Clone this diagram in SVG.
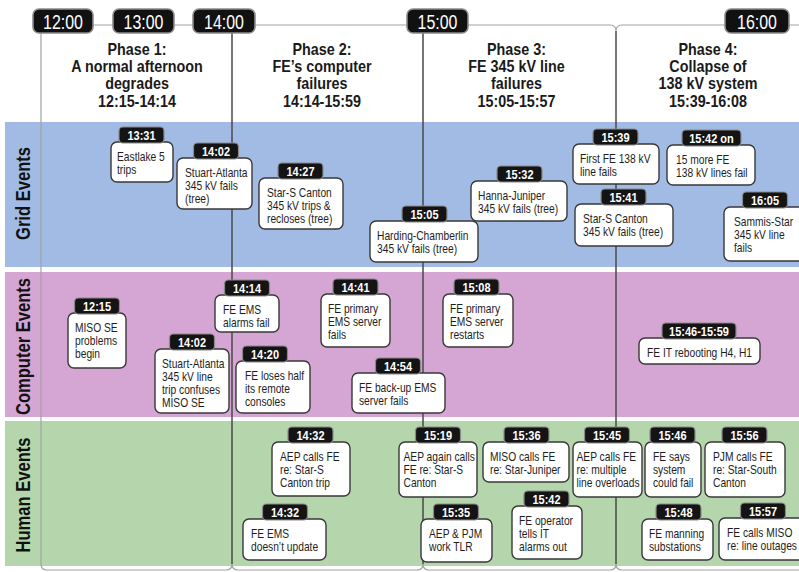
<svg xmlns="http://www.w3.org/2000/svg" width="799" height="572" viewBox="0 0 799 572">
<style>
text{font-family:"Liberation Sans",Arial,sans-serif}
.box{fill:#fff;stroke:#383838;stroke-width:1.4}
.lab{fill:#141414;stroke:#8a8a8a;stroke-width:1.2}
.lt{font-weight:bold;font-size:12.5px;fill:#fff;text-anchor:middle}
.t{font-size:12.8px;fill:#1e1e1e}
.hr{fill:#111;stroke:#8c8c8c;stroke-width:1.6}
.ht{font-size:21px;fill:#fff;text-anchor:middle}
.ph{font-weight:bold;font-size:16.3px;fill:#1a1a1a;text-anchor:middle}
.lane{font-weight:bold;font-size:19.5px;fill:#111;text-anchor:middle}
.vl{fill:none;stroke:#4a4a4a;stroke-width:1.5}
.gl{fill:none;stroke:#a2a2a2;stroke-width:1.2}
</style>
<rect width="799" height="572" fill="#fff"/>
<g id="lanes">
<rect x="5" y="122" width="794" height="145" fill="#a2bbe4"/>
<rect x="5" y="272" width="794" height="145" fill="#d5a5d3"/>
<rect x="5" y="421" width="794" height="145" fill="#b5d6ad"/>
<text class="lane" transform="translate(29.5,193.5) rotate(-90) scale(0.85,1)">Grid Events</text>
<text class="lane" transform="translate(29.5,346.5) rotate(-90) scale(0.85,1)">Computer Events</text>
<text class="lane" transform="translate(29.5,495) rotate(-90) scale(0.85,1)">Human Events</text>
</g>
<g id="connectors">
<path class="gl" d="M93 25H610Q616 25 616 31Q616 25 622 25H799"/>
<path class="gl" d="M41 33V564Q41 570 47 570H226Q232 570 232 564Q232 570 238 570H417Q423 570 423 564Q423 570 429 570H610Q616 570 616 564Q616 570 622 570H799"/>
<path class="vl" d="M232 33V564M423 33V564M616 31V564"/>
</g>
<g id="hours">
<rect class="hr" x="33" y="9" width="60" height="24" rx="6"/>
<text class="ht" transform="translate(63,28.5) scale(0.76,1)">12:00</text>
<rect class="hr" x="113" y="9" width="61" height="24" rx="6"/>
<text class="ht" transform="translate(143.5,28.5) scale(0.76,1)">13:00</text>
<rect class="hr" x="193" y="9" width="62" height="24" rx="6"/>
<text class="ht" transform="translate(224,28.5) scale(0.76,1)">14:00</text>
<rect class="hr" x="407" y="9" width="61" height="24" rx="6"/>
<text class="ht" transform="translate(437.5,28.5) scale(0.76,1)">15:00</text>
<rect class="hr" x="725" y="9" width="64" height="24" rx="6"/>
<text class="ht" transform="translate(757,28.5) scale(0.76,1)">16:00</text>
</g>
<g id="phases">
<g id="phase1" transform="translate(137,0) scale(0.88,1)"><text class="ph"><tspan x="0" y="55">Phase 1:</tspan><tspan x="0" y="72.2">A normal afternoon</tspan><tspan x="0" y="89.4">degrades</tspan><tspan x="0" y="106.6">12:15-14:14</tspan></text></g>
<g id="phase2" transform="translate(322,0) scale(0.88,1)"><text class="ph"><tspan x="0" y="55">Phase 2:</tspan><tspan x="0" y="72.2">FE’s computer</tspan><tspan x="0" y="89.4">failures</tspan><tspan x="0" y="106.6">14:14-15:59</tspan></text></g>
<g id="phase3" transform="translate(516.5,0) scale(0.88,1)"><text class="ph"><tspan x="0" y="55">Phase 3:</tspan><tspan x="0" y="72.2">FE 345 kV line</tspan><tspan x="0" y="89.4">failures</tspan><tspan x="0" y="106.6">15:05-15:57</tspan></text></g>
<g id="phase4" transform="translate(708,0) scale(0.88,1)"><text class="ph"><tspan x="0" y="55">Phase 4:</tspan><tspan x="0" y="72.2">Collapse of</tspan><tspan x="0" y="89.4">138 kV system</tspan><tspan x="0" y="106.6">15:39-16:08</tspan></text></g>
</g>

<!-- Grid events -->
<g id="g1331"><rect class="box" x="111" y="142" width="62" height="40" rx="6"/><rect class="lab" x="119" y="127" width="45" height="16" rx="4"/><text class="lt" transform="translate(141.5,139.5) scale(0.88,1)">13:31</text><g transform="translate(117,161) scale(0.8,1)"><text class="t"><tspan x="0" y="0">Eastlake 5</tspan><tspan x="0" y="13">trips</tspan></text></g></g>
<g id="g1402"><rect class="box" x="177" y="158" width="75" height="51" rx="6"/><rect class="lab" x="193.5" y="143" width="45" height="16" rx="4"/><text class="lt" transform="translate(216,155.5) scale(0.88,1)">14:02</text><g transform="translate(185,177) scale(0.8,1)"><text class="t"><tspan x="0" y="0">Stuart-Atlanta</tspan><tspan x="0" y="13">345 kV fails</tspan><tspan x="0" y="26">(tree)</tspan></text></g></g>
<g id="g1427"><rect class="box" x="259" y="178" width="84" height="51" rx="6"/><rect class="lab" x="278" y="163" width="45" height="16" rx="4"/><text class="lt" transform="translate(300.5,175.5) scale(0.88,1)">14:27</text><g transform="translate(267,197) scale(0.8,1)"><text class="t"><tspan x="0" y="0">Star-S Canton</tspan><tspan x="0" y="13">345 kV trips &amp;</tspan><tspan x="0" y="26">recloses (tree)</tspan></text></g></g>
<g id="g1505"><rect class="box" x="370" y="221" width="108" height="41" rx="6"/><rect class="lab" x="402" y="206" width="45" height="16" rx="4"/><text class="lt" transform="translate(424.5,218.5) scale(0.88,1)">15:05</text><g transform="translate(377,240) scale(0.8,1)"><text class="t"><tspan x="0" y="0">Harding-Chamberlin</tspan><tspan x="0" y="13">345 kV fails (tree)</tspan></text></g></g>
<g id="g1532"><rect class="box" x="471" y="181" width="96" height="40" rx="6"/><rect class="lab" x="497" y="166" width="45" height="16" rx="4"/><text class="lt" transform="translate(519.5,178.5) scale(0.88,1)">15:32</text><g transform="translate(478,200) scale(0.8,1)"><text class="t"><tspan x="0" y="0">Hanna-Juniper</tspan><tspan x="0" y="13">345 kV fails (tree)</tspan></text></g></g>
<g id="g1539"><rect class="box" x="573" y="144" width="86" height="40" rx="6"/><rect class="lab" x="593" y="129" width="45" height="16" rx="4"/><text class="lt" transform="translate(615.5,141.5) scale(0.88,1)">15:39</text><g transform="translate(580,163) scale(0.8,1)"><text class="t"><tspan x="0" y="0">First FE 138 kV</tspan><tspan x="0" y="13">line fails</tspan></text></g></g>
<g id="g1541"><rect class="box" x="575" y="204" width="98" height="42" rx="6"/><rect class="lab" x="601" y="189" width="45" height="16" rx="4"/><text class="lt" transform="translate(623.5,201.5) scale(0.88,1)">15:41</text><g transform="translate(583,223) scale(0.8,1)"><text class="t"><tspan x="0" y="0">Star-S Canton</tspan><tspan x="0" y="13">345 kV fails (tree)</tspan></text></g></g>
<g id="g1542on"><rect class="box" x="667" y="145" width="88" height="40" rx="6"/><rect class="lab" x="682" y="130" width="59" height="16" rx="4"/><text class="lt" transform="translate(711.5,142.5) scale(0.88,1)">15:42 on</text><g transform="translate(676,164) scale(0.8,1)"><text class="t"><tspan x="0" y="0">15 more FE</tspan><tspan x="0" y="13">138 kV lines fail</tspan></text></g></g>
<g id="g1605"><rect class="box" x="724" y="207" width="86" height="54" rx="6"/><rect class="lab" x="742.5" y="192" width="45" height="16" rx="4"/><text class="lt" transform="translate(765,204.5) scale(0.88,1)">16:05</text><g transform="translate(734,226) scale(0.8,1)"><text class="t"><tspan x="0" y="0">Sammis-Star</tspan><tspan x="0" y="13">345 kV line</tspan><tspan x="0" y="26">fails</tspan></text></g></g>

<!-- Computer events -->
<g id="c1215"><rect class="box" x="68" y="313" width="58" height="55" rx="6"/><rect class="lab" x="74.5" y="298" width="45" height="16" rx="4"/><text class="lt" transform="translate(97,310.5) scale(0.88,1)">12:15</text><g transform="translate(75,332) scale(0.8,1)"><text class="t"><tspan x="0" y="0">MISO SE</tspan><tspan x="0" y="13">problems</tspan><tspan x="0" y="26">begin</tspan></text></g></g>
<g id="c1414"><rect class="box" x="215" y="295" width="64" height="37" rx="6"/><rect class="lab" x="224.5" y="280" width="45" height="16" rx="4"/><text class="lt" transform="translate(247,292.5) scale(0.88,1)">14:14</text><g transform="translate(223,314) scale(0.8,1)"><text class="t"><tspan x="0" y="0">FE EMS</tspan><tspan x="0" y="13">alarms fail</tspan></text></g></g>
<g id="c1441"><rect class="box" x="321" y="294" width="69" height="53" rx="6"/><rect class="lab" x="333" y="279" width="45" height="16" rx="4"/><text class="lt" transform="translate(355.5,291.5) scale(0.88,1)">14:41</text><g transform="translate(328,313) scale(0.8,1)"><text class="t"><tspan x="0" y="0">FE primary</tspan><tspan x="0" y="13">EMS server</tspan><tspan x="0" y="26">fails</tspan></text></g></g>
<g id="c1402"><rect class="box" x="155" y="349" width="74" height="64" rx="6"/><rect class="lab" x="169.5" y="334" width="45" height="16" rx="4"/><text class="lt" transform="translate(192,346.5) scale(0.88,1)">14:02</text><g transform="translate(162,368) scale(0.8,1)"><text class="t"><tspan x="0" y="0">Stuart-Atlanta</tspan><tspan x="0" y="13">345 kV line</tspan><tspan x="0" y="26">trip confuses</tspan><tspan x="0" y="39">MISO SE</tspan></text></g></g>
<g id="c1420"><rect class="box" x="236" y="361" width="74" height="52" rx="6"/><rect class="lab" x="242.5" y="346" width="45" height="16" rx="4"/><text class="lt" transform="translate(265,358.5) scale(0.88,1)">14:20</text><g transform="translate(245,380) scale(0.8,1)"><text class="t"><tspan x="0" y="0">FE loses half</tspan><tspan x="0" y="13">its remote</tspan><tspan x="0" y="26">consoles</tspan></text></g></g>
<g id="c1454"><rect class="box" x="352" y="373" width="93" height="40" rx="6"/><rect class="lab" x="375.5" y="358" width="45" height="16" rx="4"/><text class="lt" transform="translate(398,370.5) scale(0.88,1)">14:54</text><g transform="translate(359,392) scale(0.8,1)"><text class="t"><tspan x="0" y="0">FE back-up EMS</tspan><tspan x="0" y="13">server fails</tspan></text></g></g>
<g id="c1508"><rect class="box" x="443" y="294" width="70" height="53" rx="6"/><rect class="lab" x="454" y="279" width="45" height="16" rx="4"/><text class="lt" transform="translate(476.5,291.5) scale(0.88,1)">15:08</text><g transform="translate(450,313) scale(0.8,1)"><text class="t"><tspan x="0" y="0">FE primary</tspan><tspan x="0" y="13">EMS server</tspan><tspan x="0" y="26">restarts</tspan></text></g></g>
<g id="c1546"><rect class="box" x="639" y="338" width="121" height="26" rx="6"/><rect class="lab" x="662" y="323" width="74" height="16" rx="4"/><text class="lt" transform="translate(699,335.5) scale(0.88,1)">15:46-15:59</text><g transform="translate(647,357) scale(0.8,1)"><text class="t"><tspan x="0" y="0">FE IT rebooting H4, H1</tspan></text></g></g>

<!-- Human events -->
<g id="h1432a"><rect class="box" x="272" y="442" width="78" height="54" rx="6"/><rect class="lab" x="288" y="427" width="45" height="16" rx="4"/><text class="lt" transform="translate(310.5,439.5) scale(0.88,1)">14:32</text><g transform="translate(280,461) scale(0.8,1)"><text class="t"><tspan x="0" y="0">AEP calls FE</tspan><tspan x="0" y="13">re: Star-S</tspan><tspan x="0" y="26">Canton trip</tspan></text></g></g>
<g id="h1432b"><rect class="box" x="243" y="519" width="83" height="41" rx="6"/><rect class="lab" x="262.5" y="504" width="45" height="16" rx="4"/><text class="lt" transform="translate(285,516.5) scale(0.88,1)">14:32</text><g transform="translate(251,538) scale(0.8,1)"><text class="t"><tspan x="0" y="0">FE EMS</tspan><tspan x="0" y="13">doesn’t update</tspan></text></g></g>
<g id="h1519"><rect class="box" x="399" y="442" width="78" height="55" rx="6"/><rect class="lab" x="415.5" y="427" width="45" height="16" rx="4"/><text class="lt" transform="translate(438,439.5) scale(0.88,1)">15:19</text><g transform="translate(403.5,461) scale(0.8,1)"><text class="t"><tspan x="0" y="0">AEP again calls</tspan><tspan x="0" y="13">FE re: Star-S</tspan><tspan x="0" y="26">Canton</tspan></text></g></g>
<g id="h1535"><rect class="box" x="421" y="519" width="71" height="43" rx="6"/><rect class="lab" x="433.5" y="504" width="45" height="16" rx="4"/><text class="lt" transform="translate(456,516.5) scale(0.88,1)">15:35</text><g transform="translate(429,538) scale(0.8,1)"><text class="t"><tspan x="0" y="0">AEP &amp; PJM</tspan><tspan x="0" y="13">work TLR</tspan></text></g></g>
<g id="h1536"><rect class="box" x="483" y="442" width="86" height="40" rx="6"/><rect class="lab" x="504" y="427" width="45" height="16" rx="4"/><text class="lt" transform="translate(526.5,439.5) scale(0.88,1)">15:36</text><g transform="translate(490,461) scale(0.8,1)"><text class="t"><tspan x="0" y="0">MISO calls FE</tspan><tspan x="0" y="13">re: Star-Juniper</tspan></text></g></g>
<g id="h1542"><rect class="box" x="512" y="506" width="70" height="53" rx="6"/><rect class="lab" x="524" y="491" width="45" height="16" rx="4"/><text class="lt" transform="translate(546.5,503.5) scale(0.88,1)">15:42</text><g transform="translate(519,525) scale(0.8,1)"><text class="t"><tspan x="0" y="0">FE operator</tspan><tspan x="0" y="13">tells IT</tspan><tspan x="0" y="26">alarms out</tspan></text></g></g>
<g id="h1545"><rect class="box" x="573" y="442" width="69" height="55" rx="6"/><rect class="lab" x="584.5" y="427" width="45" height="16" rx="4"/><text class="lt" transform="translate(607,439.5) scale(0.88,1)">15:45</text><g transform="translate(576.5,461) scale(0.8,1)"><text class="t"><tspan x="0" y="0">AEP calls FE</tspan><tspan x="0" y="13">re: multiple</tspan><tspan x="0" y="26">line overloads</tspan></text></g></g>
<g id="h1546"><rect class="box" x="645" y="442" width="56" height="55" rx="6"/><rect class="lab" x="650" y="427" width="45" height="16" rx="4"/><text class="lt" transform="translate(672.5,439.5) scale(0.88,1)">15:46</text><g transform="translate(653,461) scale(0.8,1)"><text class="t"><tspan x="0" y="0">FE says</tspan><tspan x="0" y="13">system</tspan><tspan x="0" y="26">could fail</tspan></text></g></g>
<g id="h1556"><rect class="box" x="705" y="442" width="80" height="55" rx="6"/><rect class="lab" x="722" y="427" width="45" height="16" rx="4"/><text class="lt" transform="translate(744.5,439.5) scale(0.88,1)">15:56</text><g transform="translate(713,461) scale(0.8,1)"><text class="t"><tspan x="0" y="0">PJM calls FE</tspan><tspan x="0" y="13">re: Star-South</tspan><tspan x="0" y="26">Canton</tspan></text></g></g>
<g id="h1548"><rect class="box" x="642" y="519" width="71" height="41" rx="6"/><rect class="lab" x="656" y="504" width="45" height="16" rx="4"/><text class="lt" transform="translate(678.5,516.5) scale(0.88,1)">15:48</text><g transform="translate(649,538) scale(0.8,1)"><text class="t"><tspan x="0" y="0">FE manning</tspan><tspan x="0" y="13">substations</tspan></text></g></g>
<g id="h1557"><rect class="box" x="719" y="518" width="88" height="42" rx="6"/><rect class="lab" x="740.5" y="503" width="45" height="16" rx="4"/><text class="lt" transform="translate(763,515.5) scale(0.88,1)">15:57</text><g transform="translate(727,537) scale(0.8,1)"><text class="t"><tspan x="0" y="0">FE calls MISO</tspan><tspan x="0" y="13">re: line outages</tspan></text></g></g>
</svg>
